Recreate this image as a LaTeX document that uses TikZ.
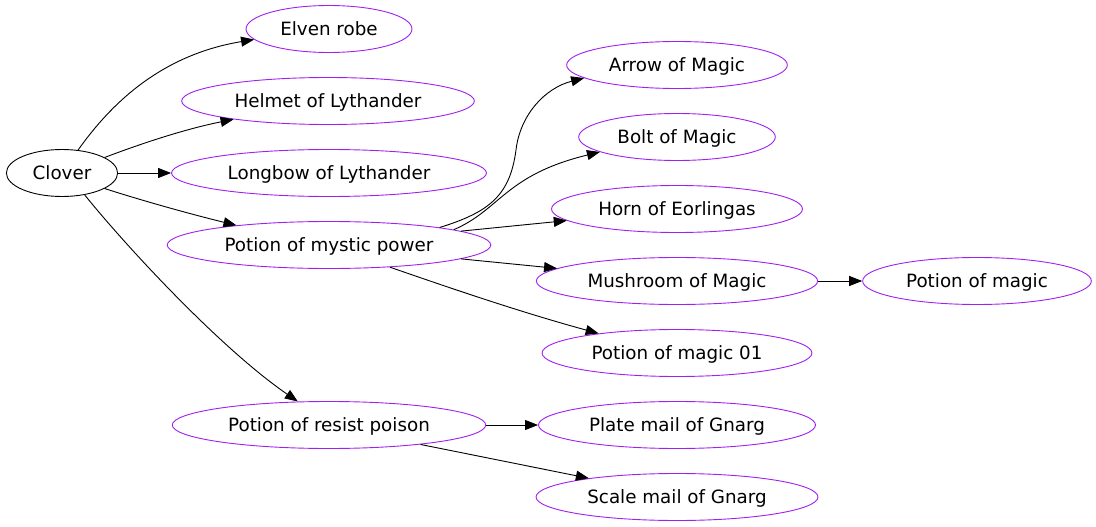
\documentclass[tikz,border=0pt]{standalone}
\usepackage{fontspec}
\setmainfont{DejaVu Sans}
\usetikzlibrary{shapes.geometric,arrows.meta}
\definecolor{itempurple}{HTML}{A020F0}
\tikzset{
  owner/.style={ellipse,draw=black,line width=0.9pt,inner xsep=10pt,inner ysep=3pt,
    minimum height=47pt,text height=13.5pt,text depth=0.5pt,font=\fontsize{18.3}{20}\selectfont},
  loot/.style={owner,draw=itempurple},
  give/.style={line width=0.9pt,-{Triangle[length=13pt,width=10pt]}}
}
\begin{document}
\begin{tikzpicture}[x=1pt,y=-1pt]
	\useasboundingbox[fill=white] (0,0) rectangle (1096,527);
	% owner
	\node[owner] (clover) at (62,173) {Clover};
	% first column
	\node[loot] (robe) at (329,29) {Elven robe};
	\node[loot] (helmet) at (328,101) {Helmet of Lythander};
	\node[loot] (longbow) at (329,173) {Longbow of Lythander};
	\node[loot] (mystic) at (329,245) {Potion of mystic power};
	\node[loot] (resist) at (329,425) {Potion of resist poison};
	% second column
	\node[loot] (arrowm) at (677,65) {Arrow of Magic};
	\node[loot] (bolt) at (677,137) {Bolt of Magic};
	\node[loot] (horn) at (677,209) {Horn of Eorlingas};
	\node[loot] (mushroom) at (677,281) {Mushroom of Magic};
	\node[loot] (magicone) at (677,353) {Potion of magic 01};
	\node[loot] (platemail) at (677,425) {Plate mail of Gnarg};
	\node[loot] (scalemail) at (677,497) {Scale mail of Gnarg};
	% third column
	\node[loot] (magic) at (977,281) {Potion of magic};
	% edges
	\draw[give] (clover.55) .. controls (110,105) and (160,55) .. (robe.188);
	\draw[give] (clover.20) .. controls (140,144) and (185,129) .. (helmet.191);
	\draw[give] (clover) -- (longbow);
	\draw[give] (clover.340) .. controls (140,200) and (190,214) .. (mystic.168);
	\draw[give] (clover.316) .. controls (125,245) and (220,348) .. (resist.143);
	\draw[give] (mystic.9) .. controls (490,212) and (510,195) .. (516,150) .. controls (520,115) and (545,88) .. (arrowm.188);
	\draw[give] (mystic.7) .. controls (500,210) and (505,175) .. (bolt.191);
	\draw[give] (mystic.6) -- (horn.186);
	\draw[give] (mystic.354) -- (mushroom.174);
	\draw[give] (mystic.340) .. controls (450,288) and (520,312) .. (magicone.166);
	\draw[give] (mushroom) -- (magic);
	\draw[give] (resist) -- (platemail);
	\draw[give] (resist.348) -- (scalemail.168);
\end{tikzpicture}
\end{document}
